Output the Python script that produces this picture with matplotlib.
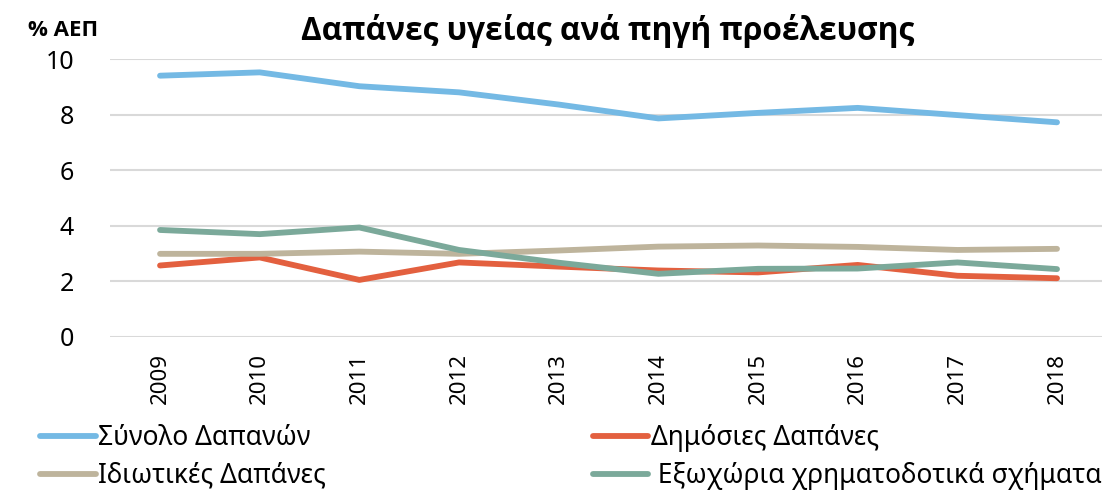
import matplotlib
matplotlib.use("Agg")
import matplotlib.pyplot as plt
import numpy as np

plt.rcParams['font.family'] = ['Noto Sans', 'DejaVu Sans']

# data (% of GDP)
years = ['2009', '2010', '2011', '2012', '2013', '2014', '2015', '2016', '2017', '2018']
total = [9.40, 9.52, 9.02, 8.80, 8.36, 7.86, 8.06, 8.24, 7.98, 7.72]
public = [2.56, 2.85, 2.04, 2.67, 2.52, 2.38, 2.31, 2.58, 2.19, 2.10]
private = [2.98, 2.98, 3.06, 2.98, 3.10, 3.24, 3.28, 3.23, 3.12, 3.16]
offshore = [3.84, 3.69, 3.93, 3.12, 2.66, 2.26, 2.44, 2.45, 2.67, 2.43]

labels = ['Σύνολο Δαπανών', 'Δημόσιες Δαπάνες', 'Ιδιωτικές Δαπάνες', ' Εξωχώρια χρηματοδοτικά σχήματα']
colors = ['#74B9E4', '#E3603F', '#BEB49C', '#7BA99A']

fig = plt.figure(figsize=(11.02, 4.92), dpi=100)
ax = fig.add_axes([0.100, 0.316, 0.9044, 0.564])

x = np.arange(len(years))
lines = []
for vals, col, lab in zip([total, public, private, offshore], colors, labels):
    l, = ax.plot(x, vals, color=col, lw=4.2, solid_capstyle='round', label=lab)
    lines.append(l)

ax.set_xlim(-0.5, len(years) - 0.5)
ax.set_ylim(0, 10)
ax.set_yticks(range(0, 11, 2))
ax.set_xticks(x)
ax.set_xticklabels(years, rotation=90, fontsize=16)
ax.tick_params(axis='y', labelsize=18, length=0, pad=26)
ax.tick_params(axis='x', length=0, pad=12)
ax.grid(axis='y', color='#D9D9D9', lw=1.5)
ax.set_axisbelow(True)
for s in ax.spines.values():
    s.set_visible(False)

fig.text(0.551, 0.937, 'Δαπάνες υγείας ανά πηγή προέλευσης', ha='center', va='center',
         fontsize=22.8, fontweight='bold', family=['Open Sans', 'DejaVu Sans'])
fig.text(0.057, 0.937, '% ΑΕΠ', ha='center', va='center', fontsize=16, fontweight='bold',
         family=['Open Sans', 'DejaVu Sans'])

# legend: two columns, filled column-wise
order = [0, 2, 1, 3]
fig.legend([lines[i] for i in order], [labels[i] for i in order], ncol=2,
           loc='upper left', bbox_to_anchor=(0.027, 0.16), frameon=False,
           fontsize=19, handlelength=2.1, handletextpad=0.1, columnspacing=10.1,
           labelspacing=0.38, borderaxespad=0)

fig.savefig('out.png', dpi=100)
